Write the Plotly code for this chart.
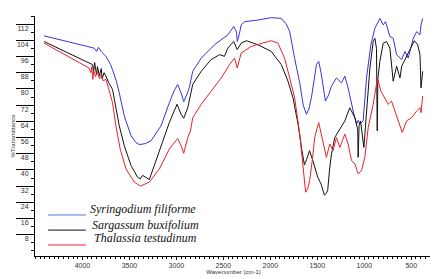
import plotly.graph_objects as go

# Syringodium filiforme (blue)
wn_blue = [4409, 4250, 4089, 3950, 3875, 3850, 3830, 3800, 3750, 3700, 3680, 3640, 3608, 3555, 3483, 3430, 3395,
           3330, 3270, 3163, 3075, 3020, 2986, 2950, 2922, 2890, 2861, 2826, 2736, 2594, 2453, 2389, 2360, 2352,
           2330, 2310, 2274, 2132, 1990, 1883, 1830, 1794, 1741, 1687, 1650, 1616, 1590, 1563, 1509, 1485, 1460,
           1413, 1380, 1349, 1296, 1242, 1207, 1172, 1118, 1082, 1065, 1047, 1012, 976, 930, 887, 834, 798, 773,
           727, 692, 656, 602, 567, 532, 478, 442, 407, 396, 378]
t_blue = [106.2, 104.5, 102.6, 101, 100.1, 98.5, 100.5, 98.5, 96, 92, 89.5, 84, 78, 66.7, 56.9, 53.5, 52.5,
          53, 54.4, 61.8, 73.2, 79.5, 82.2, 78, 73.7, 77, 80.9, 88.7, 95.2, 101.8, 106.7, 110.8, 108, 103.4,
          107, 111.6, 113.2, 114, 115.2, 114.8, 112, 108.3, 95, 83, 72, 67.5, 70, 75.6, 92, 93.6, 88,
          74, 77, 81.4, 85.4, 83, 86.3, 80.5, 69.1, 62.6, 64.5, 62.6, 64.2, 85.4, 101.8, 109.9, 114.8, 111.6, 113.2,
          105.9, 105, 96.9, 94.5, 98.5, 95.2, 105, 108.3, 106.7, 111.6, 114.8]

# Sargassum buxifolium (black)
wn_black = [4409, 4250, 4089, 3960, 3893, 3880, 3870, 3850, 3840, 3820, 3800, 3790, 3770, 3750, 3720, 3680, 3644,
            3608, 3555, 3483, 3413, 3384, 3360, 3323, 3288, 3235, 3163, 3075, 2993, 2950, 2922, 2879, 2826, 2736,
            2630, 2541, 2488, 2453, 2389, 2352, 2310, 2256, 2132, 1990, 1883, 1812, 1759, 1705, 1665, 1637, 1615,
            1583, 1550, 1528, 1495, 1460, 1440, 1424, 1405, 1389, 1370, 1349, 1314, 1260, 1207, 1154, 1100, 1070,
            1065, 1055, 1040, 1004, 990, 976, 940, 905, 887, 870, 862, 855, 834, 798, 763, 727, 692, 656, 620, 602,
            567, 513, 467, 431, 407, 396, 378]
t_black = [103.4, 99.8, 96.1, 93.5, 92, 89, 93, 87, 91, 86.5, 90, 85, 88, 86.3, 83, 79.8, 71.6,
           61.8, 52, 42.2, 36.4, 35.6, 37.3, 36.4, 35.3, 42.2, 52, 63.4, 72.4, 67.5, 65.5, 70.7, 82.2, 88.7,
           94.5, 96.9, 96.1, 100.1, 103.4, 99.4, 102.6, 103.8, 101.8, 98.5, 92, 83.8, 75.6, 62.6, 50, 42.5, 45,
           49.5, 45, 41.3, 36.4, 33, 30, 27.5, 28.5, 30, 40, 47.9, 56, 60.1, 64.2, 70.7, 65.8, 60,
           46.2, 62, 64.2, 51.1, 60, 69.1, 90.3, 103.4, 105, 100, 59.3, 85, 93.6, 102.6, 103.4, 100.1, 83.8, 91.2, 85.4, 91.2,
           94.5, 100.1, 103.8, 101.8, 96.9, 80.5, 88.7]

# Thalassia testudinum (red)
wn_red = [4409, 4250, 4089, 3960, 3929, 3910, 3900, 3890, 3880, 3860, 3840, 3820, 3800, 3780, 3750, 3720, 3680,
          3644, 3598, 3537, 3448, 3384, 3288, 3181, 3075, 2986, 2950, 2922, 2879, 2850, 2826, 2736, 2630, 2523,
          2434, 2381, 2352, 2310, 2203, 2096, 1990, 1919, 1848, 1794, 1741, 1687, 1652, 1624, 1600, 1581, 1550,
          1528, 1485, 1439, 1403, 1367, 1332, 1296, 1260, 1207, 1172, 1136, 1100, 1065, 1029, 994, 958, 905, 859,
          823, 780, 745, 710, 674, 638, 596, 549, 496, 442, 407, 396, 378]
t_red = [102.6, 98.5, 94.5, 91, 90.3, 88, 91, 84.7, 89, 86, 88.5, 85, 87, 84, 84.7, 80, 73.2,
         61.8, 50.3, 40.5, 34, 32, 34, 40.5, 50.3, 55.5, 52, 48.2, 56, 59.3, 65.8, 72.4, 78.9, 85.4,
         92, 95.2, 90.3, 97.7, 101, 102.6, 103.8, 102.6, 95.2, 85.4, 75.6, 57.7, 43, 29, 31, 34.8, 46,
         56, 63.4, 52.8, 46.2, 52.8, 49.5, 56, 51.1, 57.7, 52.8, 44.6, 43, 38.1, 39.7, 46.2, 60.9, 72.4, 85.4,
         78.9, 75.6, 72.4, 74, 69.1, 64.2, 58.5, 64.2, 65.8, 69.1, 70.7, 68.3, 76.5]

series_names = ["Syringodium filiforme", "Sargassum buxifolium", "Thalassia testudinum"]
series_colors = ["#3535dc", "#111111", "#e8222a"]
legend_line_colors = ["#4a78d8", "#111111", "#e8222a"]

y_ticks = list(range(8, 113, 8))
x_ticks = [4000, 3500, 3000, 2500, 2000, 1500, 1000, 500]

fig = go.Figure()
for xs, ys, nm, col in zip([wn_blue, wn_black, wn_red], [t_blue, t_black, t_red], series_names, series_colors):
    fig.add_trace(go.Scatter(x=xs, y=ys, mode="lines", name=nm, showlegend=False,
                             line=dict(color=col, width=1)))

# manual legend (paper coordinates)
leg_line_y = [0.171, 0.108, 0.046]
leg_text_y = [0.194, 0.131, 0.073]
leg_text_x = [0.1335, 0.1385, 0.1435]
for i, (nm, col) in enumerate(zip(series_names, legend_line_colors)):
    fig.add_shape(type="line", xref="paper", yref="paper", x0=0.033, x1=0.128,
                  y0=leg_line_y[i], y1=leg_line_y[i], line=dict(color=col, width=1))
    fig.add_annotation(xref="paper", yref="paper", x=leg_text_x[i], y=leg_text_y[i],
                       xanchor="left", yanchor="middle", showarrow=False,
                       text="<i>" + nm + "</i>",
                       font=dict(family="Liberation Serif", size=12, color="#111"))

# page body has an 8px default margin, so the figure is sized/offset to compensate
fig.update_layout(
    width=430, height=271,
    margin=dict(l=27, r=6, t=8, b=23),
    paper_bgcolor="white", plot_bgcolor="white",
    showlegend=False,
    font=dict(family="Liberation Sans", size=7, color="#333"),
)
fig.update_xaxes(
    range=[4505, 279], tickvals=x_ticks, ticktext=[str(v) for v in x_ticks],
    showgrid=False, zeroline=False, showline=True, linecolor="black", linewidth=1,
    ticks="outside", ticklen=3, tickcolor="black", tickfont=dict(size=7, color="#333"),
    minor=dict(dtick=50, tick0=0, ticks="outside", ticklen=2, tickcolor="black"),
    automargin=False,
    title=dict(text="Wavenumber (cm-1)", font=dict(size=6, color="#333"), standoff=0),
)
fig.update_yaxes(
    range=[-2.5, 116], tickvals=y_ticks, ticktext=[str(v) for v in y_ticks],
    showgrid=False, zeroline=False, showline=True, linecolor="black", linewidth=1,
    ticks="outside", ticklen=18, tickcolor="black", tickfont=dict(size=7, color="#333"),
    ticklabelstandoff=-14, ticklabelshift=4,
    minor=dict(dtick=4, tick0=0, ticks="outside", ticklen=3, tickcolor="black"),
    automargin=False,
    title=dict(text="%Transmittance", font=dict(size=6, color="#333"), standoff=0),
)
fig.write_html("out.html")
